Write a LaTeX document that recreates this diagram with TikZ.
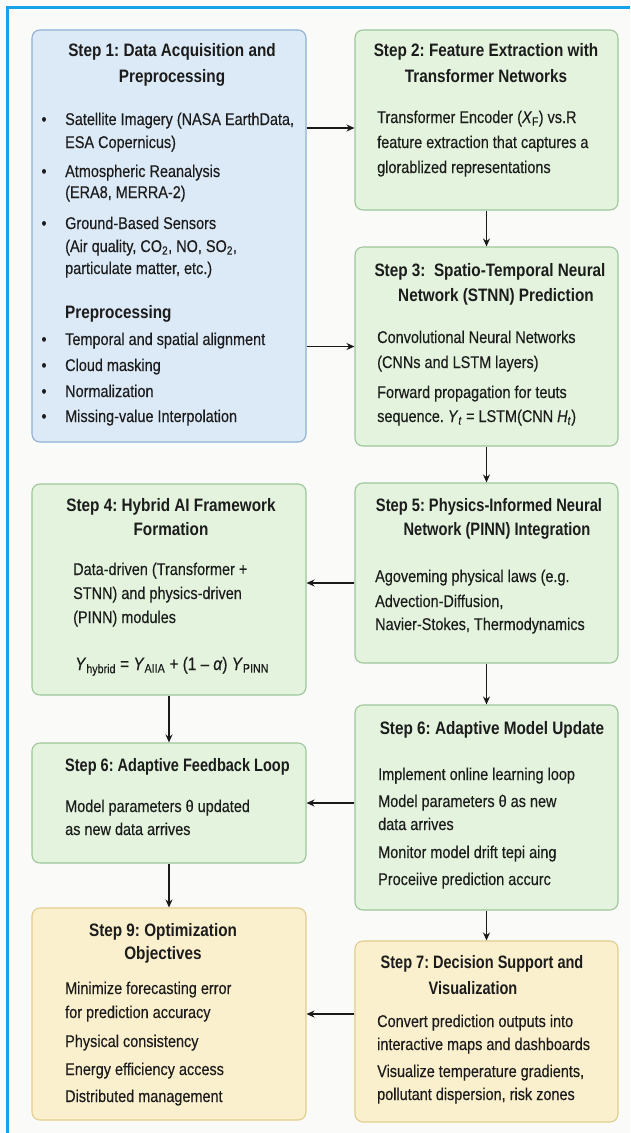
\documentclass[tikz,border=0pt]{standalone}
\usepackage{fontspec}
\usepackage{graphicx}
\setmainfont{Liberation Sans}[FakeStretch=0.85,UprightFeatures={FakeBold=0.3},ItalicFeatures={FakeBold=0.3}]
\frenchspacing
\usetikzlibrary{arrows.meta}
\definecolor{bgc}{HTML}{FAFAF8}
\definecolor{framec}{HTML}{14A3EA}
\definecolor{bluef}{HTML}{DCEAF7}
\definecolor{blued}{HTML}{8FB0D2}
\definecolor{greenf}{HTML}{E3F3DD}
\definecolor{greend}{HTML}{9DC69A}
\definecolor{yelf}{HTML}{FBF0CD}
\definecolor{yeld}{HTML}{E0CD8C}
\definecolor{txtc}{HTML}{1C1C1C}
\newcommand\myline[4]{\node[bodytxt,anchor=base west] (#1) at (#2,#3) {#4};}
\newcommand\mytitle[4]{\node[titletxt,anchor=base] (#1) at (#2,#3) {#4};}
\newcommand\mybul[3]{\node[bodytxt,anchor=base] (#1) at (#2,#3) {\textbullet};}
\begin{document}
\begin{tikzpicture}[x=1pt,y=-1pt,
  boxbase/.style={rectangle,rounded corners=8pt,line width=1.1pt,inner sep=0pt},
  bluebox/.style={boxbase,draw=blued,fill=bluef},
  greenbox/.style={boxbase,draw=greend,fill=greenf},
  yelbox/.style={boxbase,draw=yeld,fill=yelf},
  bodytxt/.style={inner sep=0pt,text=txtc,font=\fontsize{17}{20}\selectfont\frenchspacing},
  titletxt/.style={inner sep=0pt,text=txtc,font=\fontsize{18}{21}\selectfont\bfseries\frenchspacing},
  arr/.style={draw=black!90,line width=1.3pt,-{Stealth[length=8pt,width=7pt]}}]
\useasboundingbox (0,0) rectangle (630,1133);
\fill[bgc] (0,0) rectangle (630,1133);
\draw[framec,line width=2.5pt] (7.5,1133) -- (7.5,7.5) -- (630,7.5);

% boxes
\node[bluebox,minimum width=274pt,minimum height=412pt] (s1) at (169,236) {};
\node[greenbox,minimum width=263pt,minimum height=180pt] (s2) at (486.5,120) {};
\node[greenbox,minimum width=263pt,minimum height=199pt] (s3) at (486.5,346.5) {};
\node[greenbox,minimum width=274pt,minimum height=211pt] (s4) at (169,589.5) {};
\node[greenbox,minimum width=263pt,minimum height=180pt] (s5) at (486.5,573) {};
\node[greenbox,minimum width=274pt,minimum height=120pt] (s6l) at (169,803) {};
\node[greenbox,minimum width=263pt,minimum height=205pt] (s6r) at (486.5,807.5) {};
\node[yelbox,minimum width=274pt,minimum height=212pt] (s9) at (169,1014) {};
\node[yelbox,minimum width=263pt,minimum height=181pt] (s7) at (486.5,1031.5) {};

% Box 1
\mytitle{t1a}{172}{56}{Step 1: Data Acquisition and}
\mytitle{t1b}{172}{82}{Preprocessing}
\mybul{b1a}{44}{125}\myline{l1a}{65}{125}{Satellite Imagery (NASA EarthData,}
\myline{l1b}{65}{148}{ESA Copernicus)}
\mybul{b1b}{44}{177}\myline{l1c}{65}{177}{Atmospheric Reanalysis}
\myline{l1d}{65}{198}{(ERA8, MERRA-2)}
\mybul{b1c}{44}{229}\myline{l1e}{65}{229}{Ground-Based Sensors}
\myline{l1f}{65}{252}{(Air quality, CO\textsubscript{2}, NO, SO\textsubscript{2},}
\myline{l1g}{65}{274}{particulate matter, etc.)}
\node[titletxt,anchor=base west] (t1c) at (65,318) {Preprocessing};
\mybul{b1d}{44}{345}\myline{l1h}{65}{345}{Temporal and spatial alignment}
\mybul{b1e}{44}{371}\myline{l1i}{65}{371}{Cloud masking}
\mybul{b1f}{44}{397}\myline{l1j}{65}{397}{Normalization}
\mybul{b1g}{44}{422}\myline{l1k}{65}{422}{Missing-value Interpolation}

% Box 2
\mytitle{t2a}{486}{56}{Step 2: Feature Extraction with}
\mytitle{t2b}{486}{82}{Transformer Networks}
\myline{l2a}{377}{123}{Transformer Encoder (\textit{X}\textsubscript{F}) vs.R}
\myline{l2b}{377}{148}{feature extraction that captures a}
\myline{l2c}{377}{173}{glorablized representations}

% Box 3
\mytitle{t3a}{490}{276}{Step 3:\ \ Spatio-Temporal Neural}
\mytitle{t3b}{496}{301}{Network (STNN) Prediction}
\myline{l3a}{377}{343}{Convolutional Neural Networks}
\myline{l3b}{377}{368}{(CNNs and LSTM layers)}
\myline{l3c}{377}{398}{Forward propagation for teuts}
\myline{l3d}{377}{422}{sequence. \textit{Y}\textsubscript{\textit{t}} = LSTM(CNN \textit{H}\textsubscript{\textit{t}})}

% Box 4
\mytitle{t4a}{171}{511}{Step 4: Hybrid AI Framework}
\mytitle{t4b}{171}{535}{Formation}
\myline{l4a}{73}{575}{Data-driven (Transformer +}
\myline{l4b}{73}{599}{STNN) and physics-driven}
\myline{l4c}{73}{623}{(PINN) modules}
\node[bodytxt,anchor=base west,font=\fontsize{18}{21}\selectfont] (l4d) at (75,670) {\textit{Y}\textsubscript{hybrid} = \textit{Y}\textsubscript{AIIA} + (1 -- \textit{α})\ \textit{Y}\textsubscript{PINN}};

% Box 5
\mytitle{t5a}{489}{511}{\scalebox{0.96}[1]{Step 5: Physics-Informed Neural}}
\mytitle{t5b}{497}{535}{\scalebox{0.96}[1]{Network (PINN) Integration}}
\myline{l5a}{375}{582}{Agoveming physical laws (e.g.}
\myline{l5b}{375}{607}{Advection-Diffusion,}
\myline{l5c}{375}{630}{Navier-Stokes, Thermodynamics}

% Box 6 left
\node[titletxt,anchor=base west] (t6a) at (65,771) {\scalebox{0.95}[1]{Step 6: Adaptive Feedback Loop}};
\myline{l6a}{65}{812}{Model parameters θ updated}
\myline{l6b}{65}{835}{as new data arrives}

% Box 6 right
\mytitle{t6b}{492}{734}{Step 6: Adaptive Model Update}
\myline{l6c}{378}{780}{Implement online learning loop}
\myline{l6d}{378}{807}{Model parameters θ as new}
\myline{l6e}{378}{830}{data arrives}
\myline{l6f}{378}{858}{Monitor model drift tepi aing}
\myline{l6g}{378}{885}{Proceiive prediction accurc}

% Box 9
\mytitle{t9a}{163}{936}{Step 9: Optimization}
\mytitle{t9b}{163}{959}{Objectives}
\myline{l9a}{65}{994}{Minimize forecasting error}
\myline{l9b}{65}{1018}{for prediction accuracy}
\myline{l9c}{65}{1047}{Physical consistency}
\myline{l9d}{65}{1075}{Energy efficiency access}
\myline{l9e}{65}{1102}{Distributed management}

% Box 7
\mytitle{t7a}{482}{968}{\scalebox{0.95}[1]{Step 7: Decision Support and}}
\mytitle{t7b}{473}{994}{\scalebox{0.95}[1]{Visualization}}
\myline{l7a}{377}{1027}{Convert prediction outputs into}
\myline{l7b}{377}{1050}{interactive maps and dashboards}
\myline{l7c}{377}{1077}{Visualize temperature gradients,}
\myline{l7d}{377}{1100}{pollutant dispersion, risk zones}

% connectors
\path (s1.east |- s2.west) ++(0,8) coordinate (c12);
\draw[arr] (c12) -- (s2.west |- c12);
\draw[arr] (s1.east |- s3.west) -- (s3.west);
\draw[arr] (s2.south) -- (s3.north);
\draw[arr] (s3.south) -- (s5.north);
\path (s5.west) ++(0,10) coordinate (c54);
\draw[arr] (c54) -- (s4.east |- c54);
\draw[arr] (s4.south) -- (s6l.north);
\draw[arr] (s5.south) -- (s6r.north);
\draw[arr] (s6r.west |- s6l.east) -- (s6l.east);
\draw[arr] (s6l.south) -- (s9.north);
\draw[arr] (s6r.south) -- (s7.north);
\draw[arr] (s7.west |- s9.east) -- (s9.east);
\end{tikzpicture}
\end{document}
